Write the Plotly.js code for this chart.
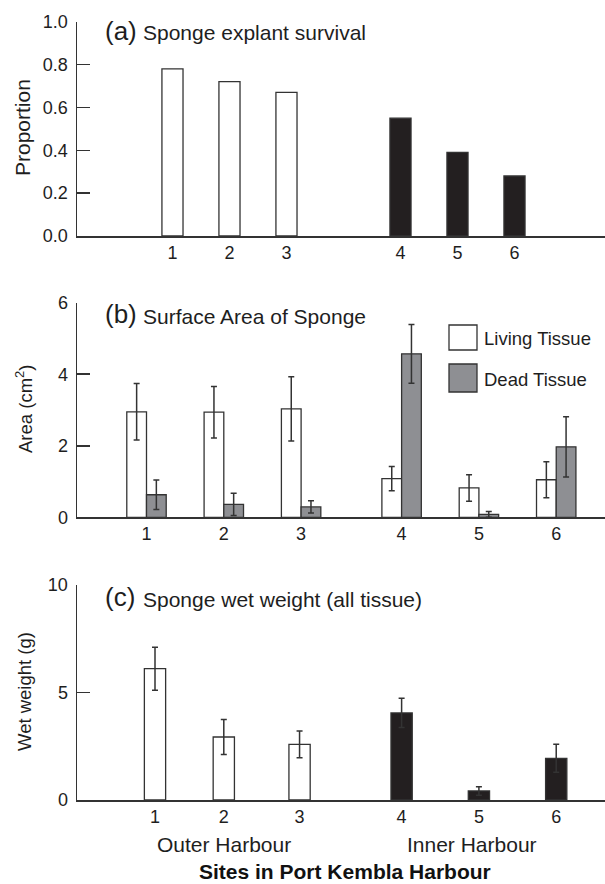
<!DOCTYPE html>
<html>
<head>
<meta charset="utf-8">
<script src="https://cdn.plot.ly/plotly-3.0.1.min.js"></script>
<style>html,body{margin:0;padding:0;background:#fff;}#chart{width:605px;height:884px;}</style>
</head>
<body>
<div id="chart"></div>
<script>
// ---- data ----
const sites = ['1', '2', '3', '4', '5', '6'];
const harbour = ['Outer', 'Outer', 'Outer', 'Inner', 'Inner', 'Inner'];
const survival = [0.78, 0.72, 0.67, 0.55, 0.39, 0.28];
const livingArea = [2.95, 2.94, 3.03, 1.08, 0.82, 1.05];
const livingErr = [0.79, 0.72, 0.90, 0.34, 0.37, 0.50];
const deadArea = [0.63, 0.36, 0.29, 4.57, 0.08, 1.97];
const deadErr = [0.41, 0.31, 0.17, 0.82, 0.08, 0.84];
const wetWeight = [6.11, 2.93, 2.59, 4.05, 0.42, 1.94];
const wetErr = [1.00, 0.81, 0.62, 0.68, 0.20, 0.65];

// ---- layout helpers (category slot positions on each axis) ----
const posA = [1, 2, 3, 5, 6, 7];
const posB = [1, 2, 3, 4.3, 5.3, 6.3];
const posC = [1.11, 2, 2.98, 4.3, 5.3, 6.3];
const W = 605, H = 884;
const X = px => px / W;
const Y = py => 1 - py / H;

const FONT = 'Liberation Sans, Arial, Helvetica, sans-serif';
const INK = '#333333';
const TXT = '#1e1e1e';
const BLACK = '#231f20';
const GREY = '#8e8f93';
const fillFor = h => h === 'Outer' ? '#ffffff' : BLACK;

const errStyle = (arr) => ({type: 'data', array: arr, visible: true, color: INK, thickness: 1.5, width: 3});

const traces = [
  {type: 'bar', name: 'Survival', x: posA, y: survival, width: 0.37, xaxis: 'x', yaxis: 'y',
   marker: {color: harbour.map(fillFor), line: {color: INK, width: 1.3}},
   hovertext: sites, showlegend: false},
  {type: 'bar', name: 'Living Tissue', x: posB, y: livingArea, width: 0.255, offset: -0.255,
   xaxis: 'x2', yaxis: 'y2', error_y: errStyle(livingErr),
   marker: {color: '#ffffff', line: {color: INK, width: 1.3}}, showlegend: false},
  {type: 'bar', name: 'Dead Tissue', x: posB, y: deadArea, width: 0.255, offset: 0,
   xaxis: 'x2', yaxis: 'y2', error_y: errStyle(deadErr),
   marker: {color: GREY, line: {color: INK, width: 1.3}}, showlegend: false},
  {type: 'bar', name: 'Wet weight', x: posC, y: wetWeight, width: 0.275, xaxis: 'x3', yaxis: 'y3',
   error_y: errStyle(wetErr),
   marker: {color: harbour.map(fillFor), line: {color: INK, width: 1.3}}, showlegend: false}
];

const xCommon = {showline: true, linecolor: INK, linewidth: 1.5, ticks: '', zeroline: false,
  showgrid: false, tickfont: {size: 18, color: TXT}, fixedrange: true};
const yCommon = {showline: true, linecolor: INK, linewidth: 1.5, ticks: 'inside', ticklen: 13,
  tickwidth: 1.5, tickcolor: INK, zeroline: false, showgrid: false,
  tickfont: {size: 18, color: TXT}, ticklabelstandoff: 4};

const layout = {
  width: W, height: H, margin: {l: 0, r: 0, t: 0, b: 0},
  paper_bgcolor: '#fff', plot_bgcolor: 'rgba(0,0,0,0)',
  font: {family: FONT, color: TXT},
  barmode: 'overlay', showlegend: false,
  xaxis: Object.assign({}, xCommon, {domain: [X(77), 1], range: [-0.675, 8.588],
    tickvals: posA, ticktext: sites, anchor: 'y'}),
  yaxis: Object.assign({}, yCommon, {domain: [Y(236), Y(21.7)], range: [0, 1],
    tickvals: [0, 0.2, 0.4, 0.6, 0.8, 1.0], ticktext: ['0.0', '0.2', '0.4', '0.6', '0.8', '1.0'], anchor: 'x'}),
  xaxis2: Object.assign({}, xCommon, {domain: [X(77), 1], range: [0.101, 6.931],
    tickvals: posB, ticktext: sites, anchor: 'y2'}),
  yaxis2: Object.assign({}, yCommon, {domain: [Y(517.3), Y(302.7)], range: [0, 6],
    tickvals: [0, 2, 4, 6], anchor: 'x2'}),
  xaxis3: Object.assign({}, xCommon, {domain: [X(77), 1], range: [0.101, 6.931],
    tickvals: posC, ticktext: sites, anchor: 'y3'}),
  yaxis3: Object.assign({}, yCommon, {domain: [Y(800), Y(585)], range: [0, 10],
    tickvals: [0, 5, 10], anchor: 'x3'}),
  shapes: [
    {type: 'rect', xref: 'paper', yref: 'paper', x0: X(449), x1: X(477), y0: Y(350), y1: Y(325),
     fillcolor: '#ffffff', line: {color: INK, width: 1.3}},
    {type: 'rect', xref: 'paper', yref: 'paper', x0: X(449), x1: X(477), y0: Y(392), y1: Y(364),
     fillcolor: GREY, line: {color: INK, width: 1.3}}
  ],
  annotations: []
};

function ann(text, px, py, size, opts) {
  layout.annotations.push(Object.assign({text: text, xref: 'paper', yref: 'paper', x: X(px), y: Y(py),
    showarrow: false, xanchor: 'left', yanchor: 'middle', borderpad: 0,
    font: {size: size, color: TXT, family: FONT}}, opts || {}));
}
// panel titles
ann('(a)', 104, 31, 26);
ann('Sponge explant survival', 142, 33, 21);
ann('(b)', 104, 314, 26);
ann('Surface Area of Sponge', 142, 316, 21);
ann('(c)', 104, 597, 26);
ann('Sponge wet weight (all tissue)', 142, 599, 21);
// y titles
ann('Proportion', 22, 128, 21, {xanchor: 'center', textangle: -90});
ann('Area (cm<sup>2</sup>)', 24, 409, 18.5, {xanchor: 'center', textangle: -90});
ann('Wet weight (g)', 24, 692, 18.5, {xanchor: 'center', textangle: -90});
// legend text
ann('Living Tissue', 483, 338, 18.5);
ann('Dead Tissue', 483, 379, 18.5);
// x labels
ann('Outer Harbour', 224, 844, 21, {xanchor: 'center'});
ann('Inner Harbour', 472.5, 844, 21, {xanchor: 'center'});
ann('<b>Sites in Port Kembla Harbour</b>', 345, 871, 21, {xanchor: 'center', font: {size: 21, color: '#111', family: FONT}});

Plotly.newPlot('chart', traces, layout, {displayModeBar: false, staticPlot: true});
</script>
</body>
</html>
